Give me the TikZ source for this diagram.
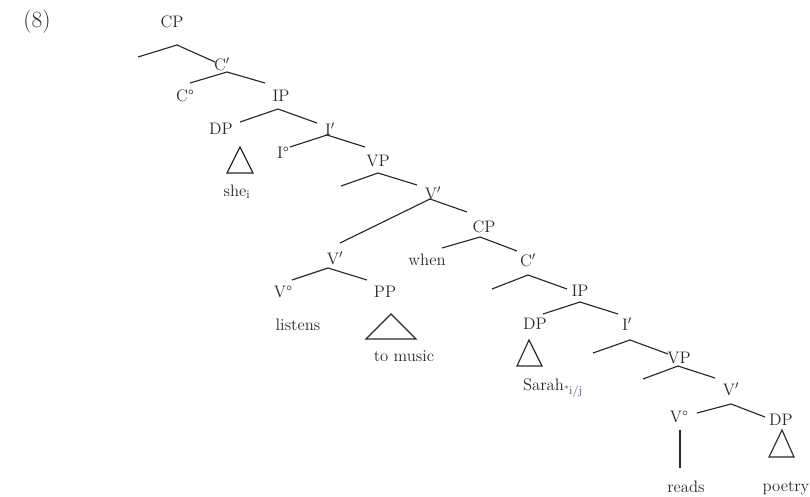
\documentclass[tikz,border=0pt]{standalone}
\usepackage{textcomp}
\definecolor{ink}{RGB}{40,40,40}
\definecolor{subc}{RGB}{80,80,150}
\tikzset{
  lab/.style={inner sep=0pt, anchor=center, text=ink, font=\fontsize{12.5}{14}\selectfont},
  br/.style={draw=ink, line width=0.85pt},
  tri/.style={draw=ink, line width=0.85pt, line join=miter}
}
\begin{document}
\begin{tikzpicture}[x=0.75pt,y=-0.75pt]
\useasboundingbox (0,0) rectangle (810,496);
% example number
\node[lab, font=\fontsize{17.5}{19}\selectfont] (ex) at (37,22) {(8)};
% ---------- matrix clause ----------
\node[lab] (cpA) at (172,22) {CP};
\coordinate (cpAa) at (177,45); \coordinate (cpAl) at (138,57); \coordinate (cpAr) at (215,62);
\node[lab] (cbA) at (222,64) {C$'$};
\coordinate (cbAa) at (227,72); \coordinate (cbAl) at (190,83); \coordinate (cbAr) at (265,83);
\node[lab] (c0A) at (185,96) {C\textdegree};
\node[lab] (ipA) at (281,96) {IP};
\coordinate (ipAa) at (278,109); \coordinate (ipAl) at (240,122); \coordinate (ipAr) at (317,123);
\node[lab] (dpA) at (221,129) {DP};
\node[lab] (ibA) at (330,129) {I$'$};
\coordinate (dpAt) at (240,147); \coordinate (dpAbl) at (227,173); \coordinate (dpAbr) at (253,173);
\node[lab] (she) at (237,192) {she\textsubscript{i}};
\coordinate (ibAa) at (327,135); \coordinate (ibAl) at (290,147); \coordinate (ibAr) at (365,147);
\node[lab] (i0A) at (283,153) {I\textdegree};
\node[lab] (vpA) at (378,161) {VP};
\coordinate (vpAa) at (378,173); \coordinate (vpAl) at (341,186); \coordinate (vpAr) at (417,185);
\node[lab] (vbA) at (433,193) {V$'$};
\coordinate (vbAa) at (430,199); \coordinate (vbAl) at (340,243); \coordinate (vbAr) at (467,212);
\node[lab] (vbB) at (335,258) {V$'$};
\coordinate (vbBa) at (328,268); \coordinate (vbBl) at (292,280); \coordinate (vbBr) at (367,280);
\node[lab] (v0A) at (283,292) {V\textdegree};
\node[lab] (ppA) at (385,292) {PP};
\node[lab] (listens) at (298,325) {listens};
\coordinate (ppAt) at (391,314); \coordinate (ppAbl) at (366,339); \coordinate (ppAbr) at (416,339);
\node[lab] (music) at (404,356) {to music};
% ---------- embedded clause ----------
\node[lab] (cpB) at (484,227) {CP};
\coordinate (cpBa) at (480,237); \coordinate (cpBl) at (442,248); \coordinate (cpBr) at (517,251);
\node[lab] (when) at (427,260) {when};
\node[lab] (cbB) at (528,260) {C$'$};
\coordinate (cbBa) at (528,275); \coordinate (cbBl) at (492,289); \coordinate (cbBr) at (567,289);
\node[lab] (ipB) at (580,291) {IP};
\coordinate (ipBa) at (580,302); \coordinate (ipBl) at (543,314); \coordinate (ipBr) at (618,314);
\node[lab] (dpB) at (535,324) {DP};
\node[lab] (ibB) at (627,324) {I$'$};
\coordinate (dpBt) at (529,340); \coordinate (dpBbl) at (517,366); \coordinate (dpBbr) at (542,366);
\node[lab] (sarah) at (553,388) {Sarah\textsubscript{\color{subc}\raisebox{1pt}{\scriptsize*}i/j}};
\coordinate (ibBa) at (630,340); \coordinate (ibBl) at (593,353); \coordinate (ibBr) at (668,354);
\node[lab] (vpB) at (679,358) {VP};
\coordinate (vpBa) at (678,366); \coordinate (vpBl) at (643,379); \coordinate (vpBr) at (715,378);
\node[lab] (vbC) at (731,389) {V$'$};
\coordinate (vbCa) at (731,404); \coordinate (vbCl) at (697,413); \coordinate (vbCr) at (765,417);
\node[lab] (v0B) at (679,417) {V\textdegree};
\node[lab] (dpC) at (781,420) {DP};
\coordinate (v0Bt) at (680,430); \coordinate (v0Bb) at (680,468);
\node[lab] (reads) at (686,487) {reads};
\coordinate (dpCt) at (782,430); \coordinate (dpCbl) at (769,457); \coordinate (dpCbr) at (794,457);
\node[lab] (poetry) at (786,488) {poetry};
% ---------- branches ----------
\draw[br] (cpAl) -- (cpAa) -- (cpAr);
\draw[br] (cbAl) -- (cbAa) -- (cbAr);
\draw[br] (ipAl) -- (ipAa) -- (ipAr);
\draw[tri] (dpAt) -- (dpAbl) -- (dpAbr) -- cycle;
\draw[br] (ibAl) -- (ibAa) -- (ibAr);
\draw[br] (vpAl) -- (vpAa) -- (vpAr);
\draw[br] (vbAl) -- (vbAa) -- (vbAr);
\draw[br] (vbBl) -- (vbBa) -- (vbBr);
\draw[tri] (ppAt) -- (ppAbl) -- (ppAbr) -- cycle;
\draw[br] (cpBl) -- (cpBa) -- (cpBr);
\draw[br] (cbBl) -- (cbBa) -- (cbBr);
\draw[br] (ipBl) -- (ipBa) -- (ipBr);
\draw[tri] (dpBt) -- (dpBbl) -- (dpBbr) -- cycle;
\draw[br] (ibBl) -- (ibBa) -- (ibBr);
\draw[br] (vpBl) -- (vpBa) -- (vpBr);
\draw[br] (vbCl) -- (vbCa) -- (vbCr);
\draw[br] (v0Bt) -- (v0Bb);
\draw[tri] (dpCt) -- (dpCbl) -- (dpCbr) -- cycle;
\end{tikzpicture}
\end{document}
